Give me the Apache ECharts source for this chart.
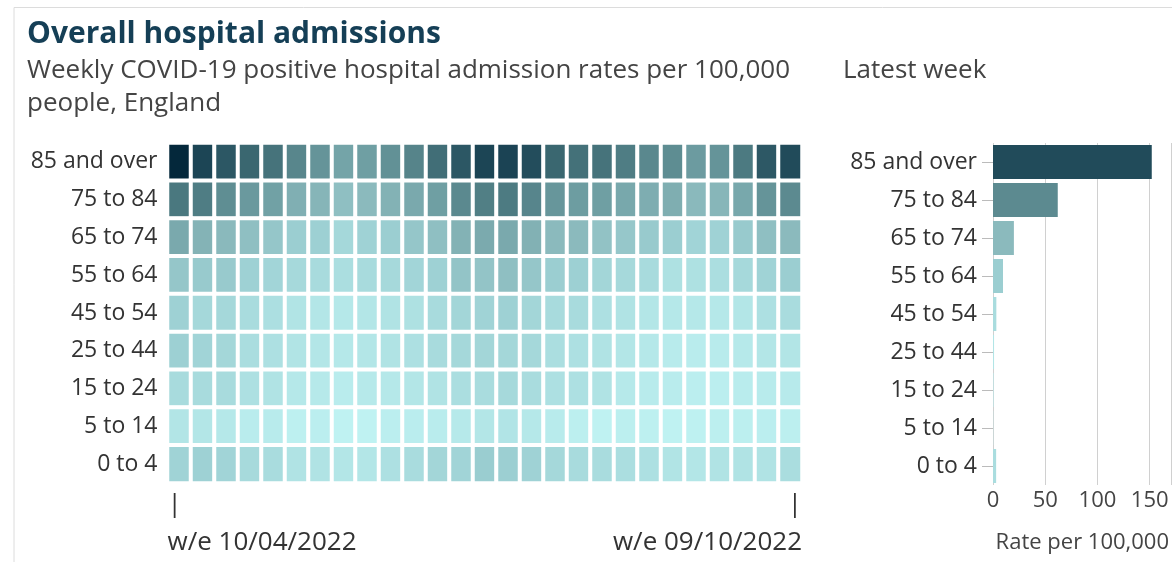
<!DOCTYPE html>
<html>
<head>
<meta charset="utf-8">
<title>Overall hospital admissions</title>
<script src="https://cdn.jsdelivr.net/npm/echarts@6/dist/echarts.min.js"></script>
<style>
	html, body { margin: 0; padding: 0; background: #fff; }
	#main { width: 1172px; height: 562px; }
</style>
</head>
<body>
<div id="main"></div>
<script>
// age bands, top row first
var ageGroups = ['85 and over', '75 to 84', '65 to 74', '55 to 64', '45 to 54', '25 to 44', '15 to 24', '5 to 14', '0 to 4'];
var firstWeek = 'w/e 10/04/2022';
var lastWeek = 'w/e 09/10/2022';
var axisTicks = [0, 50, 100, 150];

// weekly rates per 100,000, w/e 10/04/2022 .. w/e 09/10/2022 (27 weeks)
var rate85 = [245, 164, 131, 107, 89, 66, 52, 38, 42, 55, 69, 96, 131, 164, 167, 148, 107, 92, 89, 77, 64, 59, 45, 52, 81, 130, 152];
var rate75 = [84, 77, 58, 47, 40, 28, 23.5, 17, 20, 26, 33, 42, 63, 75, 80, 67, 50, 44, 42, 34, 29.5, 29, 20.6, 22.7, 34, 52, 62];
var rate65 = [33, 25, 20.6, 17, 13.2, 9.5, 8.5, 4.8, 7.4, 9.5, 13.2, 17, 26, 32, 33, 26.5, 20, 20, 15.3, 12.6, 11.3, 9.5, 6.5, 7.4, 11.3, 17, 20];
var rate55 = [13.2, 11.3, 11.3, 8, 6, 4.4, 3.6, 2.7, 3.6, 4.4, 6, 8, 14.6, 14.6, 17, 13.2, 9.5, 8.5, 5.6, 4.4, 3.6, 1.9, 1.9, 2.7, 4.4, 7, 9.6];
var rate45 = [8, 4.8, 4.8, 3.3, 2.4, 1.2, 0.9, 0.7, 0.9, 1.4, 1.9, 3.6, 5.6, 7, 8, 5.6, 3.6, 3.6, 2.1, 1.4, 0.9, 0.7, 0.7, 0.7, 0.9, 2.1, 3.2];
var rate25 = [8.5, 6.5, 5.2, 3, 2.1, 1.2, 0.9, 0.7, 0.9, 1.4, 2.1, 3.6, 4.8, 5.6, 5.2, 4.8, 2.7, 2.1, 1.4, 0.9, 0.7, 0.44, 0.37, 0.44, 0.6, 0.9, 1];
var rate15 = [3.8, 3.6, 3.6, 2.1, 1.4, 0.7, 0.6, 0.37, 0.6, 0.7, 0.9, 1.4, 2.7, 3.3, 4.4, 3.3, 2.1, 2.1, 1.4, 0.6, 0.44, 0.37, 0.25, 0.25, 0.37, 0.44, 0.5];
var rate5 = [1.0, 0.88, 0.69, 0.37, 0.44, 0.15, 0.25, 0.08, 0.08, 0.25, 0.31, 0.37, 0.6, 0.88, 1.1, 0.69, 0.44, 0.2, 0.08, 0.2, 0.15, 0.08, 0.11, 0.2, 0.2, 0.25, 0.2];
var rate0 = [7, 8, 6.5, 4, 3.3, 1.4, 1.4, 0.9, 0.9, 2.1, 3.3, 5.6, 6.5, 10.1, 9, 7.4, 4.8, 3.6, 3.3, 2.7, 2.1, 1.2, 0.9, 1.4, 1.4, 1.4, 3];

var rateRows = [rate85, rate75, rate65, rate55, rate45, rate25, rate15, rate5, rate0];

// colour ramp, applied on sqrt(rate)
var ramp = ['#c4f7f7', '#b2e5e6', '#a7dadc', '#9ccfd2', '#91c1c4', '#84b3b6', '#76a6aa', '#68979c', '#5a888e',
	'#4c7a81', '#3e6b74', '#325e69', '#254f5e', '#1a4253', '#10374a', '#072d40', '#022539'];

var weekCount = rate85.length;
var weeks = [];
for (var i = 0; i < weekCount; i++) weeks.push(i);

var cells = [];
rateRows.forEach(function(row, r) {
	row.forEach(function(v, w) {
		cells.push([w, r, Math.sqrt(v), v]);
	});
});
// latest week = last column of each row
var latest = rateRows.map(function(row, r) {
	var v = row[row.length - 1];
	return [v, r, Math.sqrt(v)];
});

var font = '"Open Sans", sans-serif';
var chart = echarts.init(document.getElementById('main'));

chart.setOption({
	backgroundColor: '#fff',
	animation: false,
	textStyle: { fontFamily: font },
	title: [
		{ text: 'Overall hospital admissions', left: 27, top: 16, padding: 0,
			textStyle: { fontFamily: font, fontSize: 30, fontWeight: 'bold', color: '#153f56', lineHeight: 36 } },
		{ text: 'Weekly COVID-19 positive hospital admission rates per 100,000\npeople, England', left: 27, top: 54.5, padding: 0,
			textStyle: { fontFamily: font, fontSize: 26, fontWeight: 'normal', color: '#444', lineHeight: 33 } },
		{ text: 'Latest week', left: 843, top: 54.5, padding: 0,
			textStyle: { fontFamily: font, fontSize: 26, fontWeight: 'normal', color: '#444', lineHeight: 33 } }
	],
	graphic: [
		{ type: 'polyline', shape: { points: [[14, 562], [14, 7.5], [1172, 7.5]] },
			style: { stroke: '#dcdcdc', lineWidth: 1, fill: null }, silent: true }
	],
	visualMap: {
		show: false,
		type: 'continuous',
		min: 0,
		max: 16,
		dimension: 2,
		seriesIndex: [0, 1],
		inRange: { color: ramp }
	},
	grid: [
		{ left: 167.5, top: 143, width: 634.5, height: 342 },
		{ left: 993, top: 143, width: 179, height: 342 }
	],
	xAxis: [
		{ type: 'category', gridIndex: 0, data: weeks, show: false },
		{ type: 'value', gridIndex: 0, position: 'bottom', min: 0, max: weekCount, interval: weekCount,
			axisLine: { show: false }, axisTick: { show: false }, splitLine: { show: false },
			axisLabel: {
				margin: 3, fontSize: 26, color: '#333', lineHeight: 38,
				alignMinLabel: 'left', alignMaxLabel: 'right',
				formatter: function(v) {
					if (v === 0) return '|\n' + firstWeek;
					if (v === weekCount) return '|\n' + lastWeek;
					return '';
				}
			} },
		{ type: 'value', gridIndex: 1, min: 0, max: 171, interval: 50,
			axisLine: { show: false }, axisTick: { show: false },
			splitLine: { lineStyle: { color: '#d0d0d0', width: 1 } },
			axisLabel: { margin: 5, fontSize: 22, color: '#444', showMaxLabel: false,
				formatter: function(v) { return axisTicks.indexOf(v) >= 0 ? String(v) : ''; } },
			name: 'Rate per 100,000', nameLocation: 'middle', nameGap: 47,
			nameTextStyle: { fontSize: 22, color: '#444' } }
	],
	yAxis: [
		{ type: 'category', gridIndex: 0, data: ageGroups, inverse: true,
			axisLine: { show: false }, axisTick: { show: false },
			axisLabel: { margin: 10, fontSize: 23, color: '#333' } },
		{ type: 'category', gridIndex: 1, data: ageGroups, inverse: true,
			axisLine: { show: false },
			axisTick: { show: true, alignWithLabel: true, length: 11, lineStyle: { color: '#bbb' } },
			axisLabel: { margin: 16, fontSize: 23, color: '#333' } }
	],
	series: [
		{
			type: 'heatmap',
			xAxisIndex: 0,
			yAxisIndex: 0,
			data: cells,
			itemStyle: { borderColor: '#fff', borderWidth: 4 }
		},
		{
			type: 'bar',
			xAxisIndex: 2,
			yAxisIndex: 1,
			data: latest,
			encode: { x: 0, y: 1 },
			barWidth: 34
		}
	]
});
</script>
</body>
</html>
